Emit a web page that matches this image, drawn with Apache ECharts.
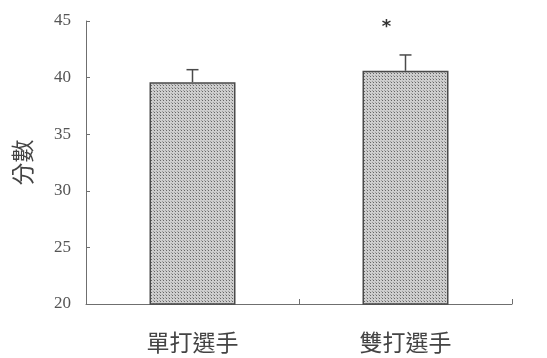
<!DOCTYPE html>
<html>
<head>
<meta charset="utf-8">
<script src="https://cdn.jsdelivr.net/npm/echarts@6/dist/echarts.min.js"></script>
<style>
  html, body { margin: 0; padding: 0; background: #ffffff; }
  #chart { width: 547px; height: 358px; }
</style>
</head>
<body>
<div id="chart"></div>
<script>
// Group names, mean scores, error (upper SD) and significance marks
const categories = ['單打選手', '雙打選手'];
const means = [39.6, 40.6];
const errors = [1.1, 1.4];
const marks = ['', '*'];
const yTicks = [20, 25, 30, 35, 40, 45];

// Stippled fill for the bars
function stipple() {
  const c = document.createElement('canvas');
  c.width = 3; c.height = 3;
  const g = c.getContext('2d');
  g.fillStyle = '#cecece';
  g.fillRect(0, 0, 3, 3);
  g.fillStyle = '#666666';
  g.fillRect(1, 1, 1, 1);
  g.fillStyle = '#9e9e9e';
  g.fillRect(0, 0, 1, 1);
  return c;
}

const textColor = '#555555';
const axisColor = '#6f6f6f';
const serif = '"Liberation Serif", "DejaVu Serif", serif';
const cjk = '"Noto Sans CJK TC", "Noto Sans CJK SC", sans-serif';

const chart = echarts.init(document.getElementById('chart'), null, { renderer: 'canvas' });

chart.setOption({
  animation: false,
  backgroundColor: '#ffffff',
  grid: { left: 86, right: 35, top: 21, bottom: 54, containLabel: false, outerBoundsMode: 'none' },
  xAxis: {
    type: 'category',
    data: categories,
    axisLine: { lineStyle: { color: axisColor, width: 1 } },
    axisTick: { show: true, inside: true, length: 5, lineStyle: { color: axisColor } },
    axisLabel: { color: '#444', fontFamily: cjk, fontSize: 23, margin: 27 },
    splitLine: { show: false }
  },
  yAxis: {
    type: 'value',
    min: yTicks[0],
    max: yTicks[yTicks.length - 1],
    interval: 5,
    name: '分數',
    nameLocation: 'middle',
    nameRotate: 90,
    nameGap: 52,
    nameTextStyle: { color: '#444', fontFamily: cjk, fontSize: 23 },
    axisLine: { show: true, lineStyle: { color: axisColor, width: 1 } },
    axisTick: { show: true, inside: true, length: 4, lineStyle: { color: axisColor } },
    axisLabel: { color: textColor, fontFamily: serif, fontSize: 17, margin: 15 },
    splitLine: { show: false }
  },
  series: [
    {
      type: 'bar',
      data: means,
      barWidth: 86,
      itemStyle: {
        color: { image: stipple(), repeat: 'repeat' },
        borderColor: '#4a4a4a',
        borderWidth: 1.5
      },
      z: 2
    },
    {
      // upper error bars with caps
      type: 'custom',
      data: means.map((m, i) => [i, m, m + errors[i]]),
      renderItem: function (params, api) {
        const base = api.coord([api.value(0), api.value(1)]);
        const top = api.coord([api.value(0), api.value(2)]);
        const half = 6;
        const style = { stroke: '#4a4a4a', lineWidth: 1.5 };
        return {
          type: 'group',
          children: [
            { type: 'line', shape: { x1: base[0], y1: base[1], x2: top[0], y2: top[1] }, style: style },
            { type: 'line', shape: { x1: top[0] - half, y1: top[1], x2: top[0] + half, y2: top[1] }, style: style }
          ]
        };
      },
      z: 3
    },
    {
      // significance marks above the error bars
      type: 'custom',
      data: means.map((m, i) => [i, m + errors[i], marks[i]]),
      renderItem: function (params, api) {
        const i = params.dataIndex;
        if (!marks[i]) return null;
        const p = api.coord([api.value(0), api.value(1)]);
        return {
          type: 'text',
          x: p[0] - 19,
          y: p[1] - 28,
          style: {
            text: marks[i],
            fill: '#333',
            font: 'bold 18px "DejaVu Sans", sans-serif',
            align: 'center',
            verticalAlign: 'middle'
          }
        };
      },
      z: 3
    }
  ]
});
</script>
</body>
</html>
